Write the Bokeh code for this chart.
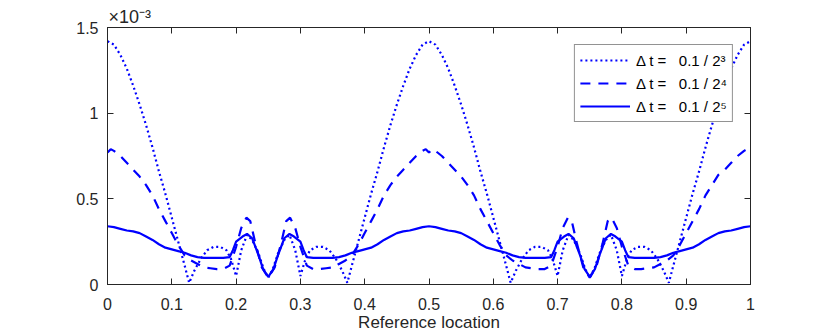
from bokeh.plotting import figure
from bokeh.models import (Range1d, LinearAxis, FixedTicker, CustomJSTickFormatter,
                          Legend, LegendItem)
from bokeh.embed import file_html
from bokeh.resources import INLINE

# ---------------- data (values in units of 1e-3) ----------------
x_dot = [0, 0.01, 0.02, 0.03, 0.04, 0.05, 0.06, 0.07, 0.08, 0.09,
         0.10, 0.11, 0.12, 0.127, 0.135, 0.145, 0.155, 0.165, 0.175, 0.185,
         0.192, 0.2, 0.208, 0.217, 0.225, 0.235, 0.243, 0.25,
         0.257, 0.265, 0.275, 0.283, 0.292, 0.3, 0.308, 0.315, 0.325, 0.335,
         0.345, 0.355, 0.365, 0.373, 0.38, 0.39, 0.40, 0.41, 0.42, 0.43,
         0.44, 0.45, 0.46, 0.47, 0.48, 0.49, 0.5,
         0.51, 0.52, 0.53, 0.54, 0.55, 0.56, 0.57, 0.58, 0.59,
         0.60, 0.61, 0.62, 0.627, 0.635, 0.645, 0.655, 0.665, 0.675, 0.685,
         0.692, 0.7, 0.708, 0.717, 0.725, 0.735, 0.743, 0.75,
         0.757, 0.765, 0.775, 0.783, 0.792, 0.8, 0.808, 0.815, 0.825, 0.835,
         0.845, 0.855, 0.865, 0.873, 0.88, 0.89, 0.90, 0.91, 0.92, 0.93,
         0.94, 0.95, 0.96, 0.97, 0.98, 0.99, 1.0]
y_dot = [1.42, 1.40, 1.34, 1.26, 1.16, 1.05, 0.93, 0.80, 0.66, 0.53,
         0.39, 0.25, 0.11, 0.01, 0.08, 0.15, 0.20, 0.22, 0.22, 0.20,
         0.15, 0.05, 0.20, 0.29, 0.26, 0.18, 0.09, 0.04,
         0.09, 0.18, 0.26, 0.29, 0.20, 0.05, 0.15, 0.20, 0.22, 0.22,
         0.20, 0.15, 0.08, 0.01, 0.11, 0.25, 0.39, 0.53, 0.66, 0.80,
         0.93, 1.05, 1.16, 1.26, 1.34, 1.40, 1.42,
         1.40, 1.34, 1.26, 1.16, 1.05, 0.93, 0.80, 0.66, 0.53,
         0.39, 0.25, 0.11, 0.01, 0.08, 0.15, 0.20, 0.22, 0.22, 0.20,
         0.15, 0.05, 0.20, 0.29, 0.26, 0.18, 0.09, 0.04,
         0.09, 0.18, 0.26, 0.29, 0.20, 0.05, 0.15, 0.20, 0.22, 0.22,
         0.20, 0.15, 0.08, 0.01, 0.11, 0.25, 0.39, 0.53, 0.66, 0.80,
         0.93, 1.05, 1.16, 1.26, 1.34, 1.40, 1.42]

x_dash = [0, 0.005, 0.01, 0.02, 0.03, 0.04, 0.05, 0.06, 0.07, 0.08,
          0.09, 0.10, 0.11, 0.12, 0.13, 0.14, 0.15, 0.16, 0.17, 0.18,
          0.19, 0.2, 0.208, 0.216, 0.222, 0.23, 0.24, 0.25,
          0.26, 0.27, 0.278, 0.284, 0.292, 0.3, 0.31, 0.32, 0.33, 0.34,
          0.35, 0.36, 0.37, 0.38, 0.39, 0.40, 0.41, 0.42, 0.43, 0.44,
          0.45, 0.46, 0.47, 0.48, 0.49, 0.495, 0.5,
          0.505, 0.51, 0.52, 0.53, 0.54, 0.55, 0.56, 0.57, 0.58,
          0.59, 0.60, 0.61, 0.62, 0.63, 0.64, 0.65, 0.66, 0.67, 0.68,
          0.69, 0.7, 0.708, 0.716, 0.722, 0.73, 0.74, 0.75,
          0.76, 0.77, 0.778, 0.784, 0.792, 0.8, 0.81, 0.82, 0.83, 0.84,
          0.85, 0.86, 0.87, 0.88, 0.89, 0.90, 0.91, 0.92, 0.93, 0.94,
          0.95, 0.96, 0.97, 0.98, 0.99, 0.995, 1.0]
y_dash = [0.77, 0.79, 0.78, 0.75, 0.71, 0.67, 0.63, 0.58, 0.52, 0.44,
          0.37, 0.30, 0.23, 0.17, 0.14, 0.12, 0.10, 0.095, 0.09, 0.09,
          0.11, 0.22, 0.33, 0.39, 0.37, 0.24, 0.10, 0.04,
          0.10, 0.24, 0.37, 0.39, 0.33, 0.22, 0.11, 0.09, 0.09, 0.095,
          0.10, 0.12, 0.14, 0.17, 0.23, 0.30, 0.37, 0.44, 0.52, 0.58,
          0.63, 0.67, 0.71, 0.75, 0.78, 0.79, 0.77,
          0.79, 0.78, 0.75, 0.71, 0.67, 0.63, 0.58, 0.52, 0.44,
          0.37, 0.30, 0.23, 0.17, 0.14, 0.12, 0.10, 0.095, 0.09, 0.09,
          0.11, 0.22, 0.33, 0.39, 0.37, 0.24, 0.10, 0.04,
          0.10, 0.24, 0.37, 0.39, 0.33, 0.22, 0.11, 0.09, 0.09, 0.095,
          0.10, 0.12, 0.14, 0.17, 0.23, 0.30, 0.37, 0.44, 0.52, 0.58,
          0.64, 0.67, 0.71, 0.75, 0.78, 0.79, 0.77]

x_sol = [0, 0.01, 0.02, 0.03, 0.04, 0.05, 0.06, 0.07, 0.08, 0.09,
         0.10, 0.11, 0.12, 0.13, 0.14, 0.15, 0.16, 0.17, 0.18, 0.19,
         0.195, 0.2, 0.21, 0.217, 0.225, 0.235, 0.242, 0.25,
         0.258, 0.265, 0.275, 0.283, 0.29, 0.3, 0.305, 0.31, 0.32, 0.33,
         0.34, 0.35, 0.36, 0.37, 0.38, 0.39, 0.40, 0.41, 0.42, 0.43,
         0.44, 0.45, 0.46, 0.47, 0.48, 0.49, 0.5,
         0.51, 0.52, 0.53, 0.54, 0.55, 0.56, 0.57, 0.58, 0.59,
         0.60, 0.61, 0.62, 0.63, 0.64, 0.65, 0.66, 0.67, 0.68, 0.69,
         0.695, 0.7, 0.71, 0.717, 0.725, 0.735, 0.742, 0.75,
         0.758, 0.765, 0.775, 0.783, 0.79, 0.8, 0.805, 0.81, 0.82, 0.83,
         0.84, 0.85, 0.86, 0.87, 0.88, 0.89, 0.90, 0.91, 0.92, 0.93,
         0.94, 0.95, 0.96, 0.97, 0.98, 0.99, 1.0]
y_sol = [0.34, 0.335, 0.325, 0.315, 0.31, 0.30, 0.28, 0.26, 0.235, 0.215,
         0.205, 0.195, 0.185, 0.17, 0.16, 0.155, 0.155, 0.155, 0.155, 0.16,
         0.20, 0.25, 0.28, 0.295, 0.27, 0.17, 0.09, 0.045,
         0.09, 0.17, 0.27, 0.295, 0.28, 0.25, 0.20, 0.16, 0.155, 0.155,
         0.155, 0.155, 0.16, 0.17, 0.185, 0.195, 0.205, 0.215, 0.235, 0.26,
         0.28, 0.30, 0.31, 0.315, 0.325, 0.335, 0.34,
         0.335, 0.325, 0.315, 0.31, 0.30, 0.28, 0.26, 0.235, 0.215,
         0.205, 0.195, 0.185, 0.17, 0.16, 0.155, 0.155, 0.155, 0.155, 0.16,
         0.20, 0.25, 0.28, 0.295, 0.27, 0.17, 0.09, 0.045,
         0.09, 0.17, 0.27, 0.295, 0.28, 0.25, 0.20, 0.16, 0.155, 0.155,
         0.155, 0.155, 0.16, 0.17, 0.185, 0.195, 0.205, 0.215, 0.235, 0.26,
         0.28, 0.30, 0.31, 0.315, 0.325, 0.335, 0.34]

x_ticks = [0, 0.1, 0.2, 0.3, 0.4, 0.5, 0.6, 0.7, 0.8, 0.9, 1.0]
y_ticks = [0, 0.5, 1.0, 1.5]
labels = ["\u0394 t =\u00a0\u00a0\u00a00.1 / 2\u00b3",
          "\u0394 t =\u00a0\u00a0\u00a00.1 / 2\u2074",
          "\u0394 t =\u00a0\u00a0\u00a00.1 / 2\u2075"]
x_label = "Reference location"
multiplier = "\u00d710\u207b\u00b3"

# ---------------- styling ----------------
FONT = "Liberation Sans"
AX = "#262626"
BLUE = "#0000ff"

p = figure(width=830, height=336, output_backend="svg", toolbar_location=None,
           x_range=Range1d(0, 1), y_range=Range1d(0, 1.5),
           min_border_left=107, min_border_right=80, min_border_top=27,
           min_border_bottom=52, title=multiplier)
p.grid.visible = False
p.outline_line_color = AX
p.outline_line_width = 1
p.background_fill_color = "white"
p.border_fill_color = "white"

p.title.align = "left"
p.title.offset = 1
p.title.standoff = 1
p.title.text_font = FONT
p.title.text_font_size = "18px"
p.title.text_font_style = "normal"
p.title.text_color = AX

fmt = CustomJSTickFormatter(code="return (Math.round(tick*10)/10).toString();")

for ax, ticks in ((p.xaxis[0], x_ticks), (p.yaxis[0], y_ticks)):
    ax.ticker = FixedTicker(ticks=ticks)
    ax.formatter = fmt
    ax.major_tick_in = 6
    ax.major_tick_out = 0
    ax.minor_tick_line_color = None
    ax.axis_line_color = AX
    ax.major_tick_line_color = AX
    ax.major_label_text_color = AX
    ax.major_label_text_font = FONT
    ax.major_label_text_font_size = "16px"
    ax.major_label_standoff = 9

p.xaxis[0].major_label_standoff = 13
p.xaxis[0].axis_label = x_label
p.xaxis[0].axis_label_standoff = 0
p.xaxis[0].axis_label_text_font = FONT
p.xaxis[0].axis_label_text_font_size = "17px"
p.xaxis[0].axis_label_text_font_style = "normal"
p.xaxis[0].axis_label_text_color = AX

# extra top/right axes for inner ticks (box style)
top = LinearAxis(ticker=FixedTicker(ticks=x_ticks), major_tick_in=6, major_tick_out=0,
                 minor_tick_line_color=None, axis_line_color=AX,
                 major_tick_line_color=AX, major_label_text_font_size="0px",
                 major_label_standoff=0)
right = LinearAxis(ticker=FixedTicker(ticks=y_ticks), major_tick_in=6, major_tick_out=0,
                   minor_tick_line_color=None, axis_line_color=AX,
                   major_tick_line_color=AX, major_label_text_font_size="0px",
                   major_label_standoff=0)
p.add_layout(top, "above")
p.add_layout(right, "right")

W = 2.2
r_dot = p.line(x_dot, y_dot, line_color=BLUE, line_width=W, line_dash="2 3")
r_dash = p.line(x_dash, y_dash, line_color=BLUE, line_width=W, line_dash="10 8")
r_sol = p.line(x_sol, y_sol, line_color=BLUE, line_width=W)

legend = Legend(items=[LegendItem(label=labels[0], renderers=[r_dot]),
                       LegendItem(label=labels[1], renderers=[r_dash]),
                       LegendItem(label=labels[2], renderers=[r_sol])],
                location="top_right", margin=17, padding=5, spacing=3,
                glyph_width=50, glyph_height=20, label_height=20,
                label_standoff=6, label_text_font=FONT,
                label_text_font_size="15px", label_text_color="#000000",
                border_line_color=AX, border_line_width=1,
                background_fill_color="white", background_fill_alpha=1.0)
p.add_layout(legend)

open("out.html", "w").write(file_html(p, INLINE))
